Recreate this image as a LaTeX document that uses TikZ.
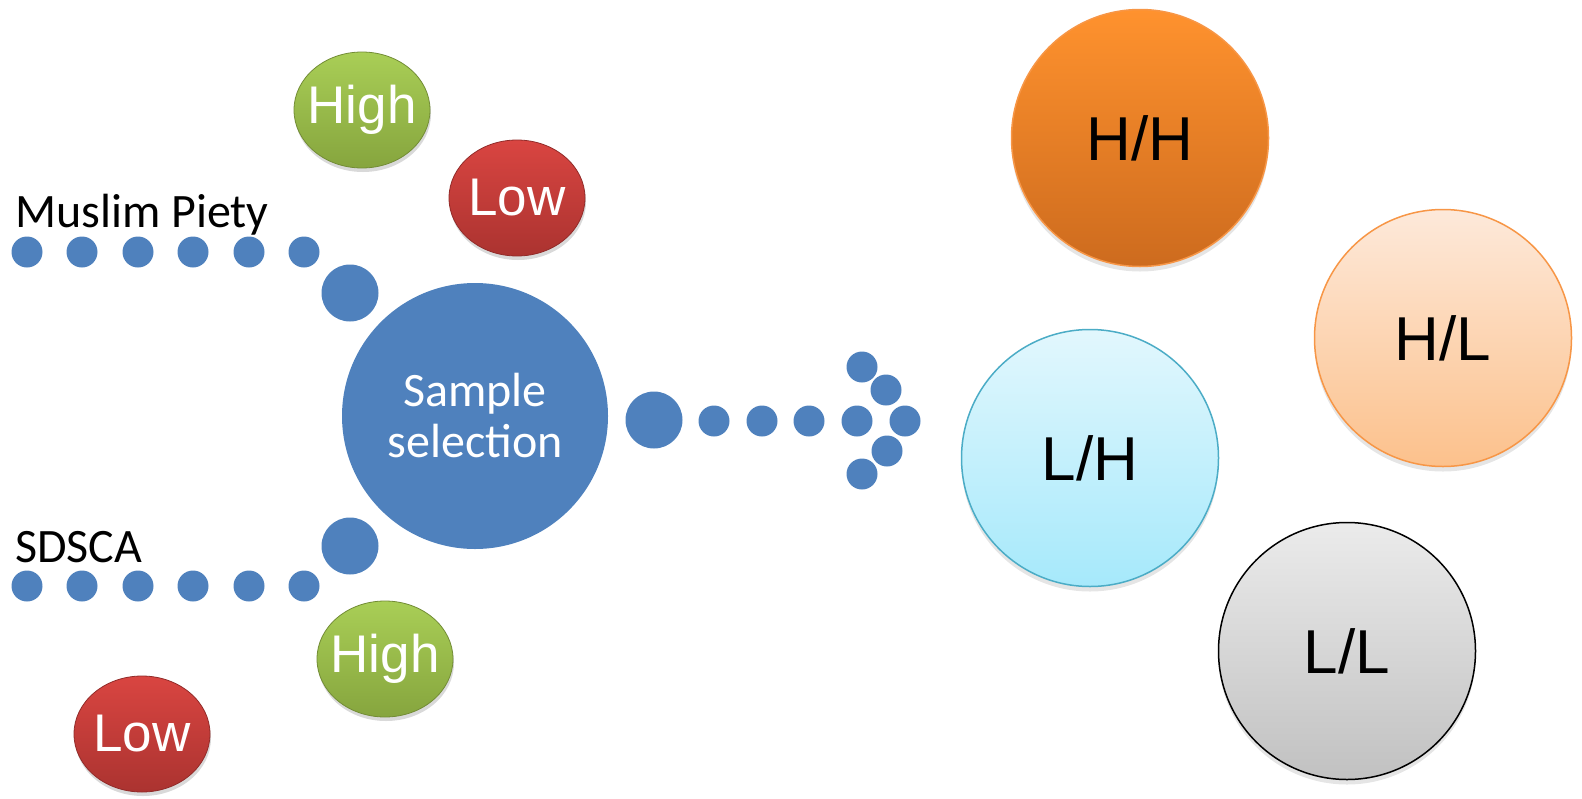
\documentclass[tikz,border=0pt]{standalone}
\usepackage{fontspec}
\setmainfont{Carlito}
\newfontfamily\arialfont{Liberation Sans}
\usepackage{tikz}
\usetikzlibrary{shapes.geometric,shadows}

\definecolor{dotblue}{HTML}{4F81BD}
\definecolor{hhtop}{HTML}{FF922E}
\definecolor{hhbot}{HTML}{CD6B1E}
\definecolor{hltop}{HTML}{FDE9DA}
\definecolor{hlbot}{HTML}{FCC18C}
\definecolor{accorange}{HTML}{F79646}
\definecolor{lhtop}{HTML}{E2F7FD}
\definecolor{lhbot}{HTML}{A6E9FB}
\definecolor{accteal}{HTML}{4BACC6}
\definecolor{lltop}{HTML}{EBEBEB}
\definecolor{llbot}{HTML}{C1C1C1}
\definecolor{grtop}{HTML}{A9CE56}
\definecolor{grbot}{HTML}{86A53E}
\definecolor{rdtop}{HTML}{D94541}
\definecolor{rdbot}{HTML}{AB3330}

\begin{document}
\begin{tikzpicture}[x=1pt, y=-1pt, inner sep=0pt,
  dot/.style={circle, fill=dotblue, minimum size=31pt},
  bigdot/.style={circle, fill=dotblue, minimum size=57pt},
  hub/.style={circle, fill=dotblue, minimum size=266pt, align=center, text=white,
    font=\fontsize{48}{51}\selectfont},
  button/.style={ellipse, minimum width=136pt, minimum height=116pt,
    label={[text=white, font=\arialfont\fontsize{53}{56}\selectfont]center:#1},
    drop shadow={shadow xshift=1pt, shadow yshift=-4pt, opacity=.15, fill=black}},
  high/.style={button=#1, top color=grtop, bottom color=grbot, draw=grbot!85!black, line width=.8pt},
  low/.style={button=#1, top color=rdtop, bottom color=rdbot, draw=rdbot!85!black, line width=.8pt},
  group/.style={circle, minimum size=257pt, line width=1.5pt,
    font=\arialfont\fontsize{62}{66}\selectfont,
    drop shadow={shadow xshift=0pt, shadow yshift=-5pt, opacity=.1, fill=black}},
  scale label/.style={anchor=base west, font=\fontsize{48}{52}\selectfont}]

\useasboundingbox (0,0) rectangle (1582,798);

% scales
\node[scale label] (piety) at (15,227) {Muslim Piety};
\node[scale label] (sdsca) at (15,562) {SDSCA};

\foreach \i/\px in {1/27,2/82,3/138,4/193,5/249,6/304} {
  \node[dot] (mp\i) at (\px,252) {};
  \node[dot] (sd\i) at (\px,586) {};
}
\node[bigdot] (mpbig) at (350,293) {};
\node[bigdot] (sdbig) at (350,546) {};

\node[high=High] (mphigh) at (362,110) {};
\node[low=Low]   (mplow)  at (517,198) {};
\node[high=High] (sdhigh) at (385,659) {};
\node[low=Low]   (sdlow)  at (142,734) {};

% sample selection
\node[hub] (sample) at (475,416) {Sample\\selection};

% dotted arrow
\node[bigdot] (arbig) at (654,420) {};
\foreach \i/\px/\py in {1/714/421,2/762/421,3/809/421,4/857/421,5/905/421,
                        6/862/367,7/886/390,8/887/451,9/862/474}
  \node[dot] (ar\i) at (\px,\py) {};

% groups
\node[group, top color=hhtop, bottom color=hhbot, draw=accorange] (hh) at (1140,138) {H/H};
\node[group, top color=hltop, bottom color=hlbot, draw=accorange] (hl) at (1443,338) {H/L};
\node[group, top color=lhtop, bottom color=lhbot, draw=accteal] (lh) at (1090,458) {L/H};
\node[group, top color=lltop, bottom color=llbot, draw=black] (ll) at (1347,651) {L/L};
\end{tikzpicture}
\end{document}
